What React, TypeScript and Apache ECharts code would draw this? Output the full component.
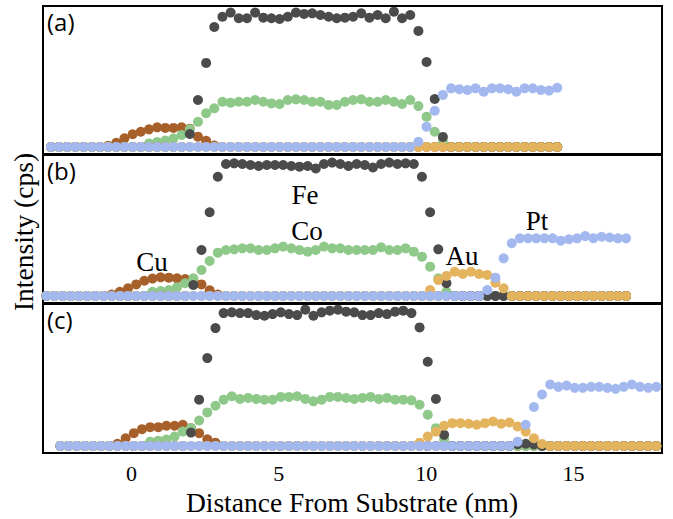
import React, { useEffect, useRef } from "react";
import * as echarts from "echarts";

// Sampling grid (nm): first position of each panel and constant step
const STEP = 0.277;
const X0_A = -2.729;
const X0_B = -2.886;
const X0_C = -2.412;

const X_MIN = -3;
const X_MAX = 18;
const X_TICKS = [0, 5, 10, 15];

// ---------- Panel (a) ----------
const FE_A = [
  0, 0, 0, 0, 0, 0, 0, 0, 0, 0, 0, 0, 0, 0, 0, 0, 0,
  0.092, 0.333, 0.596, 0.851,
  0.924, 0.953, 0.913, 0.913, 0.953, 0.917, 0.913, 0.908, 0.924, 0.953, 0.944, 0.948,
  0.936, 0.924, 0.913, 0.917, 0.924, 0.948, 0.917, 0.936, 0.913, 0.96, 0.913, 0.936,
  0.823, 0.603, 0.34, 0.071,
  0, 0, 0, 0, 0, 0, 0, 0, 0, 0, 0, 0, 0, 0,
];
const CO_A = [
  0, 0, 0, 0, 0, 0, 0, 0, 0, 0, 0, 0,
  0.025, 0.035, 0.045, 0.06, 0.085,
  0.125, 0.179, 0.239, 0.274,
  0.321, 0.314, 0.321, 0.321, 0.333, 0.321, 0.309, 0.305, 0.333, 0.338, 0.333, 0.321,
  0.321, 0.298, 0.298, 0.321, 0.333, 0.338, 0.321, 0.321, 0.333, 0.321, 0.305, 0.333,
  0.29, 0.215, 0.108, 0.037,
  0, 0, 0, 0, 0, 0, 0, 0, 0, 0, 0, 0, 0, 0,
];
const CU_A = [
  0, 0, 0, 0, 0, 0, 0,
  0.008, 0.03, 0.061, 0.09, 0.108, 0.125, 0.139, 0.135, 0.135, 0.14, 0.13, 0.073, 0.044, 0.01,
  0, 0, 0, 0, 0, 0, 0, 0, 0, 0, 0, 0, 0, 0, 0, 0, 0, 0, 0, 0, 0,
  0, 0, 0, 0, 0, 0, 0, 0, 0, 0, 0, 0, 0, 0, 0, 0, 0, 0, 0, 0, 0,
];
const AU_A = [
  0, 0, 0, 0, 0, 0, 0, 0, 0, 0, 0, 0, 0, 0, 0, 0, 0, 0, 0, 0, 0,
  0, 0, 0, 0, 0, 0, 0, 0, 0, 0, 0, 0, 0, 0, 0, 0, 0, 0, 0, 0, 0,
  0, 0, 0, 0, 0, 0, 0, 0, 0, 0, 0, 0, 0, 0, 0, 0, 0, 0, 0, 0, 0,
];
const PT_A = [
  0, 0, 0, 0, 0, 0, 0, 0, 0, 0, 0, 0, 0, 0, 0,
  0, 0, 0, 0, 0, 0, 0, 0, 0, 0, 0, 0, 0, 0, 0,
  0, 0, 0, 0, 0, 0, 0, 0, 0, 0, 0, 0, 0, 0, 0,
  0.037, 0.144, 0.257, 0.369, 0.416, 0.41, 0.404, 0.416, 0.392,
  0.416, 0.416, 0.41, 0.392, 0.416, 0.416, 0.404, 0.4, 0.42,
];

// ---------- Panel (b) ----------
const FE_B = [
  0, 0, 0, 0, 0, 0, 0, 0, 0, 0, 0, 0, 0, 0, 0, 0, 0, 0,
  0.078, 0.326, 0.594, 0.846,
  0.936, 0.941, 0.936, 0.929, 0.922, 0.929, 0.929, 0.929, 0.922, 0.917, 0.922, 0.905,
  0.936, 0.946, 0.936, 0.922, 0.936, 0.929, 0.911, 0.936, 0.946, 0.936, 0.941, 0.936,
  0.846, 0.594, 0.331, 0.09,
  0, 0, 0, 0, 0, 0, 0, 0, 0, 0, 0, 0, 0, 0, 0, 0, 0, 0, 0, 0, 0, 0,
];
const CO_B = [
  0, 0, 0, 0, 0, 0, 0, 0, 0, 0, 0, 0, 0,
  0.03, 0.035, 0.042, 0.061, 0.09,
  0.125, 0.184, 0.248, 0.307,
  0.326, 0.331, 0.338, 0.338, 0.326, 0.326, 0.338, 0.35, 0.338, 0.326, 0.314, 0.326,
  0.35, 0.338, 0.338, 0.326, 0.326, 0.326, 0.326, 0.345, 0.326, 0.326, 0.338, 0.314,
  0.279, 0.208, 0.125, 0.03,
  0, 0, 0, 0, 0, 0, 0, 0, 0, 0, 0, 0, 0, 0, 0, 0, 0, 0, 0, 0, 0, 0,
];
const CU_B = [
  0, 0, 0, 0, 0, 0, 0, 0,
  0.01, 0.03, 0.054, 0.082, 0.108, 0.123, 0.132, 0.13, 0.125, 0.12, 0.11, 0.082, 0.04, 0.01,
  0, 0, 0, 0, 0, 0, 0, 0, 0, 0, 0, 0, 0, 0, 0, 0, 0, 0, 0, 0, 0, 0, 0, 0, 0,
  0, 0, 0, 0, 0, 0, 0, 0, 0, 0, 0, 0, 0, 0, 0, 0, 0, 0, 0, 0, 0, 0, 0, 0, 0,
];
const AU_B = [
  0, 0, 0, 0, 0, 0, 0, 0, 0, 0, 0, 0, 0, 0, 0, 0,
  0, 0, 0, 0, 0, 0, 0, 0, 0, 0, 0, 0, 0, 0, 0, 0,
  0, 0, 0, 0, 0, 0, 0, 0, 0, 0, 0, 0, 0, 0, 0,
  0.042, 0.113, 0.142, 0.172, 0.156, 0.172, 0.156, 0.149, 0.094, 0.054,
  0, 0, 0, 0, 0, 0, 0, 0, 0, 0, 0, 0, 0, 0, 0,
];
const PT_B = [
  0, 0, 0, 0, 0, 0, 0, 0, 0, 0, 0, 0, 0, 0, 0, 0, 0, 0,
  0, 0, 0, 0, 0, 0, 0, 0, 0, 0, 0, 0, 0, 0, 0, 0, 0, 0,
  0, 0, 0, 0, 0, 0, 0, 0, 0, 0, 0, 0, 0, 0, 0, 0, 0, 0,
  0.042, 0.13, 0.267, 0.374, 0.409, 0.409, 0.409, 0.409, 0.409,
  0.392, 0.402, 0.409, 0.425, 0.409, 0.42, 0.415, 0.409, 0.409,
];

// ---------- Panel (c) ----------
const FE_C = [
  0, 0, 0, 0, 0, 0, 0, 0, 0, 0, 0, 0, 0, 0, 0, 0,
  0.094, 0.326, 0.619, 0.83,
  0.936, 0.941, 0.936, 0.936, 0.922, 0.917, 0.929, 0.941, 0.929, 0.922, 0.96, 0.917,
  0.941, 0.953, 0.96, 0.946, 0.941, 0.922, 0.922, 0.936, 0.929, 0.946, 0.953, 0.936,
  0.835, 0.593, 0.331, 0.078,
  0, 0, 0, 0, 0, 0, 0, 0,
  0.012, 0.015, 0.01,
  0, 0, 0, 0, 0, 0, 0, 0, 0, 0, 0, 0, 0, 0, 0,
];
const CO_C = [
  0, 0, 0, 0, 0, 0, 0, 0, 0, 0, 0,
  0.03, 0.037, 0.045, 0.066, 0.101,
  0.125, 0.179, 0.236, 0.283,
  0.326, 0.35, 0.331, 0.338, 0.331, 0.326, 0.326, 0.345, 0.345, 0.35, 0.331, 0.314,
  0.326, 0.345, 0.345, 0.338, 0.331, 0.338, 0.345, 0.331, 0.338, 0.326, 0.326, 0.321,
  0.29, 0.22, 0.125, 0.045,
  0, 0, 0, 0, 0, 0, 0, 0, 0, 0, 0, 0, 0, 0, 0, 0, 0, 0, 0, 0, 0, 0, 0, 0, 0, 0,
];
const CU_C = [
  0, 0, 0, 0, 0, 0, 0,
  0.015, 0.054, 0.09, 0.118, 0.132, 0.132, 0.142, 0.142, 0.149, 0.125, 0.09, 0.047, 0.023,
  0, 0, 0, 0, 0, 0, 0, 0, 0, 0, 0, 0, 0, 0, 0, 0, 0, 0,
  0, 0, 0, 0, 0, 0, 0, 0, 0, 0, 0, 0, 0, 0, 0, 0, 0, 0,
  0, 0, 0, 0, 0, 0, 0, 0, 0, 0, 0, 0, 0, 0, 0, 0, 0, 0,
];
const AU_C = [
  0, 0, 0, 0, 0, 0, 0, 0, 0, 0, 0, 0, 0, 0, 0, 0, 0, 0, 0, 0, 0, 0,
  0, 0, 0, 0, 0, 0, 0, 0, 0, 0, 0, 0, 0, 0, 0, 0, 0, 0, 0, 0, 0, 0,
  0.023, 0.066, 0.101, 0.142, 0.16, 0.16, 0.156, 0.149,
  0.16, 0.172, 0.156, 0.165, 0.137, 0.101, 0.054, 0.014,
  0, 0, 0, 0, 0, 0, 0, 0, 0, 0, 0, 0, 0, 0,
];
const PT_C = [
  0, 0, 0, 0, 0, 0, 0, 0, 0, 0, 0, 0, 0, 0, 0, 0, 0, 0, 0, 0, 0, 0, 0, 0, 0, 0, 0, 0,
  0, 0, 0, 0, 0, 0, 0, 0, 0, 0, 0, 0, 0, 0, 0, 0, 0, 0, 0, 0, 0, 0, 0, 0, 0, 0, 0, 0,
  0.03, 0.149, 0.274, 0.362, 0.433, 0.416, 0.425, 0.409, 0.409,
  0.416, 0.416, 0.409, 0.402, 0.416, 0.433, 0.416, 0.409, 0.416,
];

const ELEMENTS = ["Cu", "Co", "Fe", "Au", "Pt"];
const COLORS: Record<string, string> = {
  Fe: "#4b4b4b",
  Co: "#8ec98a",
  Cu: "#a8602b",
  Au: "#e4b35e",
  Pt: "#a2b8ee",
};

const PANELS = [
  { x0: X0_A, data: { Cu: CU_A, Co: CO_A, Fe: FE_A, Au: AU_A, Pt: PT_A } },
  { x0: X0_B, data: { Cu: CU_B, Co: CO_B, Fe: FE_B, Au: AU_B, Pt: PT_B } },
  { x0: X0_C, data: { Cu: CU_C, Co: CO_C, Fe: FE_C, Au: AU_C, Pt: PT_C } },
];

const SERIF = "Liberation Serif";
const SANS = "Open Sans";

export default function App() {
  const ref = useRef<HTMLDivElement>(null);

  useEffect(() => {
    if (!ref.current) return;
    const chart = echarts.init(ref.current, null, { renderer: "svg" });

    const gridBoxes = [
      { top: 6, height: 148 },
      { top: 155, height: 148 },
      { top: 304, height: 149 },
    ];

    const grid = gridBoxes.map((g) => ({
      left: 43,
      right: 11,
      top: g.top,
      height: g.height,
      show: true,
      borderColor: "#000",
      borderWidth: 2,
      backgroundColor: "transparent",
    }));

    const xAxis = gridBoxes.map((_, k) => {
      const bottom = k === 2;
      return {
        type: "value",
        gridIndex: k,
        min: X_MIN,
        max: X_MAX,
        axisLine: { show: false },
        splitLine: { show: false },
        axisTick: bottom
          ? {
              show: true,
              customValues: X_TICKS,
              length: 5,
              inside: false,
              lineStyle: { color: "#000", width: 1.5 },
            }
          : { show: false },
        axisLabel: bottom
          ? {
              show: true,
              customValues: X_TICKS,
              fontSize: 22,
              fontFamily: SERIF,
              color: "#000",
              margin: 9,
            }
          : { show: false },
      };
    });

    const yAxis = gridBoxes.map((_, k) => ({
      type: "value",
      gridIndex: k,
      min: -0.05,
      max: 1,
      show: false,
    }));

    const series: any[] = [];
    PANELS.forEach((p, k) => {
      ELEMENTS.forEach((el) => {
        const vals: number[] = (p.data as any)[el];
        series.push({
          type: "scatter",
          name: el + k,
          xAxisIndex: k,
          yAxisIndex: k,
          symbol: "circle",
          symbolSize: 10,
          itemStyle: { color: COLORS[el], opacity: 1 },
          emphasis: { disabled: true },
          data: vals.map((v, i) => [p.x0 + i * STEP, v]),
        });
      });
    });

    const txt = (text: string, x: number, y: number, size: number, family: string, align = "center", rotation = 0) => ({
      type: "text",
      x,
      y,
      rotation,
      silent: true,
      style: {
        text,
        fontSize: size,
        fontFamily: family,
        fill: "#000",
        align,
        verticalAlign: "middle",
      },
    });

    const graphic = [
      txt("(a)", 47, 21, 24, SANS, "left"),
      txt("(b)", 47, 170, 24, SANS, "left"),
      txt("(c)", 47, 319, 24, SANS, "left"),
      txt("Fe", 305, 195, 27, SERIF),
      txt("Co", 307, 231, 27, SERIF),
      txt("Cu", 152, 262, 27, SERIF),
      txt("Au", 462, 256, 27, SERIF),
      txt("Pt", 537, 221, 27, SERIF),
      txt("Distance From Substrate (nm)", 352, 502, 27.5, SERIF),
      txt("Intensity (cps)", 23, 232, 27.5, SERIF, "center", Math.PI / 2),
    ];

    chart.setOption({
      animation: false,
      backgroundColor: "#fff",
      grid,
      xAxis,
      yAxis,
      series,
      graphic,
    });

    return () => chart.dispose();
  }, []);

  return (
    <div
      ref={ref}
      style={{ position: "absolute", left: 0, top: 0, width: 673, height: 519 }}
    />
  );
}
